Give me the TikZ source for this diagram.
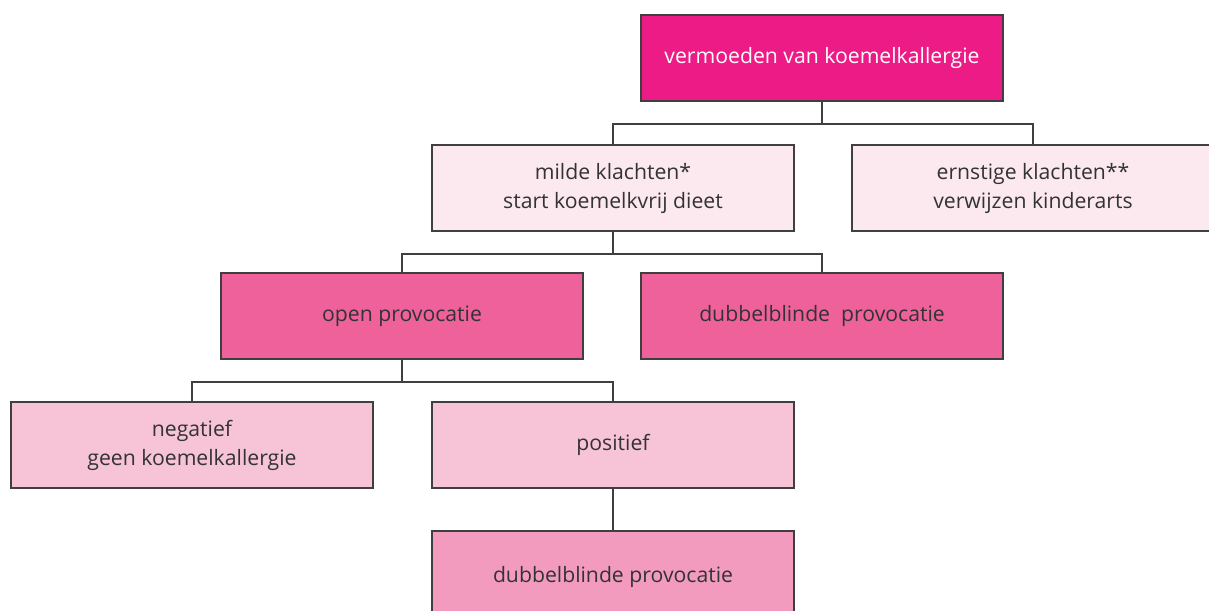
\documentclass[tikz,border=0pt]{standalone}
\usepackage{fontspec}
\setmainfont{Open Sans}
\definecolor{topc}{HTML}{EC1B86}
\definecolor{lightc}{HTML}{FCE8EF}
\definecolor{midc}{HTML}{EE619B}
\definecolor{softc}{HTML}{F6C3D7}
\definecolor{rosec}{HTML}{F39BBE}
\definecolor{linec}{HTML}{3F3F3F}
\definecolor{textc}{HTML}{333333}
\begin{document}
\begin{tikzpicture}[x=1pt,y=-1pt,
  box/.style={draw=linec,line width=1.5pt,minimum width=362pt,minimum height=86pt,
    inner sep=0pt,align=center,text=textc,
    font=\fontsize{21.2}{29}\selectfont},
  conn/.style={draw=linec,line width=1.5pt}]
\useasboundingbox (0,0) rectangle (1209,610);
\clip (0,0) rectangle (1209,610);
\node[box,fill=topc,text=white] (a) at (822,58) {vermoeden van koemelkallergie};
\node[box,fill=lightc] (b) at (613,188) {milde klachten*\\start koemelkvrij dieet};
\node[box,fill=lightc] (c) at (1033,188) {ernstige klachten**\\verwijzen kinderarts};
\node[box,fill=midc] (d) at (402,316) {open provocatie};
\node[box,fill=midc] (e) at (822,316) {dubbelblinde\ \ provocatie};
\node[box,fill=softc] (f) at (192,445) {negatief\\geen koemelkallergie};
\node[box,fill=softc] (g) at (613,445) {positief};
\node[box,fill=rosec,minimum height=92pt] (h) at (613,577) {\raisebox{3pt}{dubbelblinde provocatie}};
\draw[conn] (a.south) -- ++(0,22) coordinate (ja) -| (b.north);
\draw[conn] (ja) -| (c.north);
\draw[conn] (b.south) -- ++(0,22) coordinate (jb) -| (d.north);
\draw[conn] (jb) -| (e.north);
\draw[conn] (d.south) -- ++(0,22) coordinate (jd) -| (f.north);
\draw[conn] (jd) -| (g.north);
\draw[conn] (g.south) -- (h.north);
\end{tikzpicture}
\end{document}
